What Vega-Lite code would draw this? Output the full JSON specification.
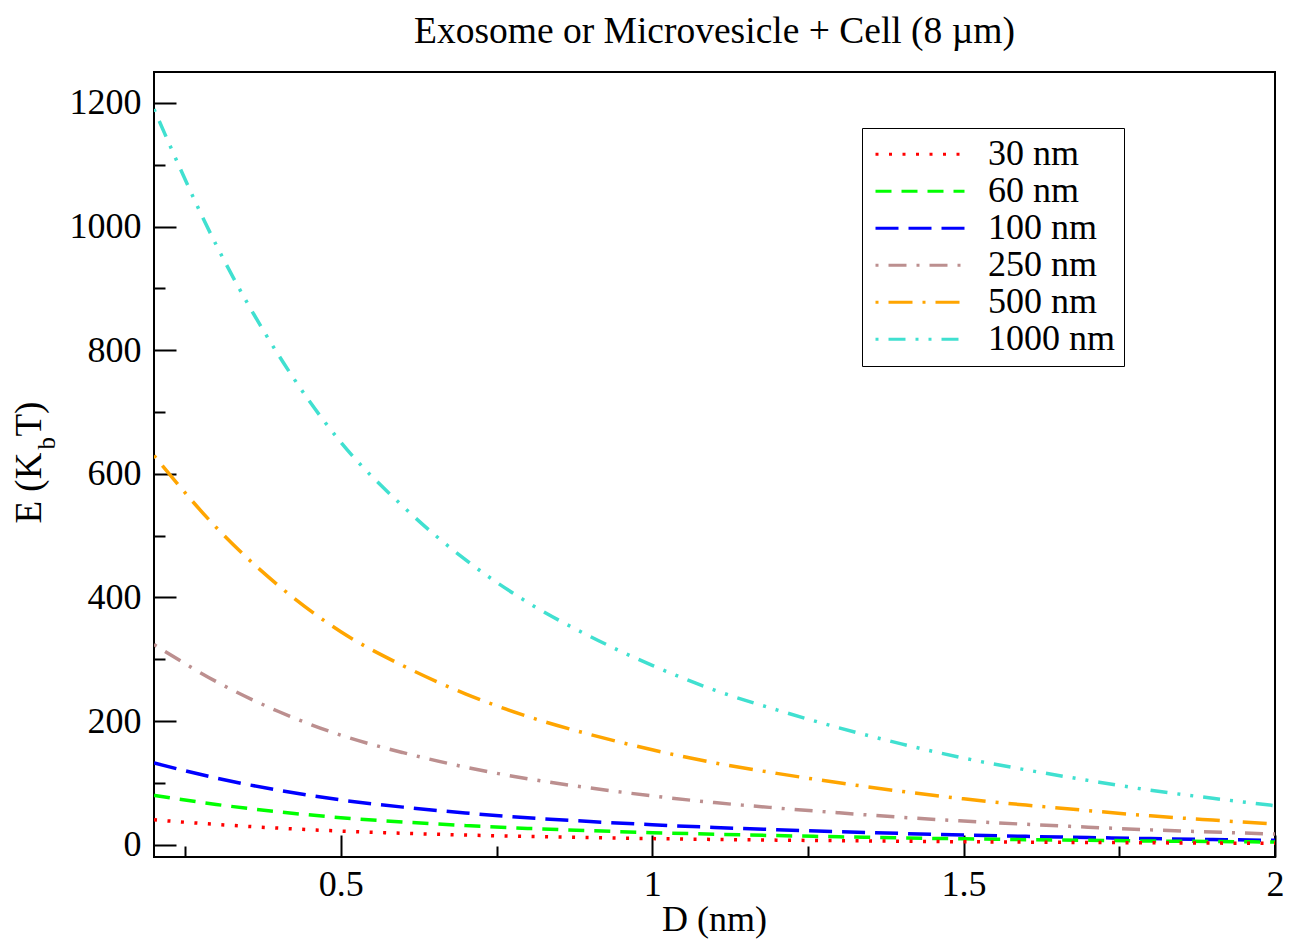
{
  "$schema": "https://vega.github.io/schema/vega-lite/v6.json",
  "autosize": "none",
  "width": 1121,
  "height": 785,
  "padding": {"left": 154, "top": 72, "right": 16, "bottom": 82},
  "background": "white",
  "config": {
    "font": "Liberation Serif",
    "view": {"stroke": "black", "strokeWidth": 2},
    "axis": {"grid": false, "domain": false, "labelFont": "Liberation Serif", "titleFont": "Liberation Serif", "labelColor": "black", "titleColor": "black", "tickColor": "black", "tickWidth": 2, "labelFlush": false, "labelOverlap": false, "titleFontWeight": "normal"}
  },
  "title": {"text": "Exosome or Microvesicle + Cell (8 µm)", "font": "Liberation Serif", "fontSize": 37.5, "fontWeight": "normal", "color": "black", "anchor": "middle", "frame": "group", "baseline": "alphabetic", "offset": -8},
  "data": {"values": [
    {"D":0.2,"size":"1000 nm","E":1190},{"D":0.3,"size":"1000 nm","E":970},{"D":0.4,"size":"1000 nm","E":792},{"D":0.5,"size":"1000 nm","E":651},{"D":0.6,"size":"1000 nm","E":547},{"D":0.7,"size":"1000 nm","E":461},{"D":0.8,"size":"1000 nm","E":392},{"D":0.9,"size":"1000 nm","E":337},{"D":1.0,"size":"1000 nm","E":290},{"D":1.1,"size":"1000 nm","E":250},{"D":1.2,"size":"1000 nm","E":218},{"D":1.3,"size":"1000 nm","E":189},{"D":1.4,"size":"1000 nm","E":163},{"D":1.5,"size":"1000 nm","E":140},{"D":1.6,"size":"1000 nm","E":121},{"D":1.7,"size":"1000 nm","E":104},{"D":1.8,"size":"1000 nm","E":88},{"D":1.9,"size":"1000 nm","E":75},{"D":2.0,"size":"1000 nm","E":63},
    {"D":0.2,"size":"500 nm","E":629.5},{"D":0.3,"size":"500 nm","E":513.1},{"D":0.4,"size":"500 nm","E":419.0},{"D":0.5,"size":"500 nm","E":344.4},{"D":0.6,"size":"500 nm","E":289.4},{"D":0.7,"size":"500 nm","E":243.9},{"D":0.8,"size":"500 nm","E":207.4},{"D":0.9,"size":"500 nm","E":178.3},{"D":1.0,"size":"500 nm","E":153.4},{"D":1.1,"size":"500 nm","E":132.3},{"D":1.2,"size":"500 nm","E":115.3},{"D":1.3,"size":"500 nm","E":100.0},{"D":1.4,"size":"500 nm","E":86.2},{"D":1.5,"size":"500 nm","E":74.1},{"D":1.6,"size":"500 nm","E":64.0},{"D":1.7,"size":"500 nm","E":55.0},{"D":1.8,"size":"500 nm","E":46.6},{"D":1.9,"size":"500 nm","E":39.7},{"D":2.0,"size":"500 nm","E":33.3},
    {"D":0.2,"size":"250 nm","E":323.7},{"D":0.3,"size":"250 nm","E":263.8},{"D":0.4,"size":"250 nm","E":215.4},{"D":0.5,"size":"250 nm","E":177.1},{"D":0.6,"size":"250 nm","E":148.8},{"D":0.7,"size":"250 nm","E":125.4},{"D":0.8,"size":"250 nm","E":106.6},{"D":0.9,"size":"250 nm","E":91.7},{"D":1.0,"size":"250 nm","E":78.9},{"D":1.1,"size":"250 nm","E":68.0},{"D":1.2,"size":"250 nm","E":59.3},{"D":1.3,"size":"250 nm","E":51.4},{"D":1.4,"size":"250 nm","E":44.3},{"D":1.5,"size":"250 nm","E":38.1},{"D":1.6,"size":"250 nm","E":32.9},{"D":1.7,"size":"250 nm","E":28.3},{"D":1.8,"size":"250 nm","E":23.9},{"D":1.9,"size":"250 nm","E":20.4},{"D":2.0,"size":"250 nm","E":17.1},
    {"D":0.2,"size":"100 nm","E":132.1},{"D":0.3,"size":"100 nm","E":107.7},{"D":0.4,"size":"100 nm","E":87.9},{"D":0.5,"size":"100 nm","E":72.3},{"D":0.6,"size":"100 nm","E":60.7},{"D":0.7,"size":"100 nm","E":51.2},{"D":0.8,"size":"100 nm","E":43.5},{"D":0.9,"size":"100 nm","E":37.4},{"D":1.0,"size":"100 nm","E":32.2},{"D":1.1,"size":"100 nm","E":27.8},{"D":1.2,"size":"100 nm","E":24.2},{"D":1.3,"size":"100 nm","E":21.0},{"D":1.4,"size":"100 nm","E":18.1},{"D":1.5,"size":"100 nm","E":15.5},{"D":1.6,"size":"100 nm","E":13.4},{"D":1.7,"size":"100 nm","E":11.5},{"D":1.8,"size":"100 nm","E":9.8},{"D":1.9,"size":"100 nm","E":8.3},{"D":2.0,"size":"100 nm","E":7.0},
    {"D":0.2,"size":"60 nm","E":79.7},{"D":0.3,"size":"60 nm","E":65.0},{"D":0.4,"size":"60 nm","E":53.1},{"D":0.5,"size":"60 nm","E":43.6},{"D":0.6,"size":"60 nm","E":36.6},{"D":0.7,"size":"60 nm","E":30.9},{"D":0.8,"size":"60 nm","E":26.3},{"D":0.9,"size":"60 nm","E":22.6},{"D":1.0,"size":"60 nm","E":19.4},{"D":1.1,"size":"60 nm","E":16.8},{"D":1.2,"size":"60 nm","E":14.6},{"D":1.3,"size":"60 nm","E":12.7},{"D":1.4,"size":"60 nm","E":10.9},{"D":1.5,"size":"60 nm","E":9.4},{"D":1.6,"size":"60 nm","E":8.1},{"D":1.7,"size":"60 nm","E":7.0},{"D":1.8,"size":"60 nm","E":5.9},{"D":1.9,"size":"60 nm","E":5.0},{"D":2.0,"size":"60 nm","E":4.2},
    {"D":0.2,"size":"30 nm","E":40.1},{"D":0.3,"size":"30 nm","E":32.7},{"D":0.4,"size":"30 nm","E":26.7},{"D":0.5,"size":"30 nm","E":21.9},{"D":0.6,"size":"30 nm","E":18.4},{"D":0.7,"size":"30 nm","E":15.5},{"D":0.8,"size":"30 nm","E":13.2},{"D":0.9,"size":"30 nm","E":11.4},{"D":1.0,"size":"30 nm","E":9.8},{"D":1.1,"size":"30 nm","E":8.4},{"D":1.2,"size":"30 nm","E":7.3},{"D":1.3,"size":"30 nm","E":6.4},{"D":1.4,"size":"30 nm","E":5.5},{"D":1.5,"size":"30 nm","E":4.7},{"D":1.6,"size":"30 nm","E":4.1},{"D":1.7,"size":"30 nm","E":3.5},{"D":1.8,"size":"30 nm","E":3.0},{"D":1.9,"size":"30 nm","E":2.5},{"D":2.0,"size":"30 nm","E":2.1}
  ]},
  "layer": [
    {
      "mark": {"type": "line", "strokeWidth": 3.5, "interpolate": "monotone", "clip": true},
      "encoding": {
        "x": {"field": "D", "type": "quantitative", "scale": {"domain": [0.2, 2], "nice": false, "zero": false},
          "axis": {"orient": "bottom", "values": [0.5, 1, 1.5, 2], "format": "~g", "tickSize": -22, "labelPadding": 32, "labelFontSize": 36, "labelBaseline": "top", "title": "D (nm)", "titleFontSize": 36, "titleX": 560, "titleY": 73, "titleBaseline": "alphabetic", "titleAlign": "center"}},
        "y": {"field": "E", "type": "quantitative", "scale": {"domain": [-20, 1250], "nice": false, "zero": false},
          "axis": {"orient": "left", "values": [0, 200, 400, 600, 800, 1000, 1200], "format": "d", "tickSize": -22, "labelPadding": 35, "labelFontSize": 36, "title": "E (K", "titleFontSize": 37, "titleAngle": 270, "titleX": -114, "titleY": 451, "titleAlign": "left", "titleBaseline": "alphabetic"}},
        "color": {"field": "size", "type": "nominal",
          "scale": {"domain": ["30 nm", "60 nm", "100 nm", "250 nm", "500 nm", "1000 nm"], "range": ["#ff0000", "#00ff00", "#0000ff", "#bc8f8f", "#ffa500", "#40e0d0"]},
          "legend": {"orient": "none", "legendX": 708, "legendY": 56, "title": null, "strokeColor": "black", "fillColor": "white", "padding": 8, "symbolType": "stroke", "symbolSize": 7921, "symbolStrokeWidth": 3, "symbolOffset": 4, "clipHeight": 36.5, "rowPadding": 0, "labelOffset": 22, "labelFont": "Liberation Serif", "labelFontSize": 36, "labelColor": "black", "labelLimit": 300}},
        "strokeDash": {"field": "size", "type": "nominal",
          "scale": {"domain": ["30 nm", "60 nm", "100 nm", "250 nm", "500 nm", "1000 nm"], "range": [[3, 10.5], [16, 10], [23, 10], [3, 10, 18, 10], [3, 10, 24, 10], [3, 10, 17, 10, 3, 10]]},
          "legend": {"orient": "none", "legendX": 708, "legendY": 56, "title": null, "strokeColor": "black", "fillColor": "white", "padding": 8, "symbolType": "stroke", "symbolSize": 7921, "symbolStrokeWidth": 3, "symbolOffset": 4, "clipHeight": 36.5, "rowPadding": 0, "labelOffset": 22, "labelFont": "Liberation Serif", "labelFontSize": 36, "labelColor": "black", "labelLimit": 300}}
      }
    },
    {
      "mark": {"type": "line", "opacity": 0},
      "encoding": {
        "x": {"field": "D", "type": "quantitative",
          "axis": {"orient": "bottom", "values": [0.25, 0.75, 1.25, 1.75], "tickSize": -11, "labels": false, "title": null}},
        "y": {"field": "E", "type": "quantitative",
          "axis": {"orient": "left", "values": [100, 300, 500, 700, 900, 1100], "tickSize": -11, "labels": false, "title": "T)", "titleFontSize": 37, "titleAngle": 270, "titleX": -114, "titleY": 364, "titleAlign": "left", "titleBaseline": "alphabetic"}},
        "detail": {"field": "size", "type": "nominal"}
      }
    },
    {
      "mark": {"type": "line", "opacity": 0},
      "encoding": {
        "x": {"field": "D", "type": "quantitative", "axis": null},
        "y": {"field": "E", "type": "quantitative",
          "axis": {"orient": "left", "values": [1300], "ticks": false, "labels": false, "title": "b", "titleFontSize": 25, "titleAngle": 270, "titleX": -100, "titleY": 377, "titleAlign": "left", "titleBaseline": "alphabetic"}},
        "detail": {"field": "size", "type": "nominal"}
      }
    }
  ],
  "resolve": {"axis": {"x": "independent", "y": "independent"}}
}
